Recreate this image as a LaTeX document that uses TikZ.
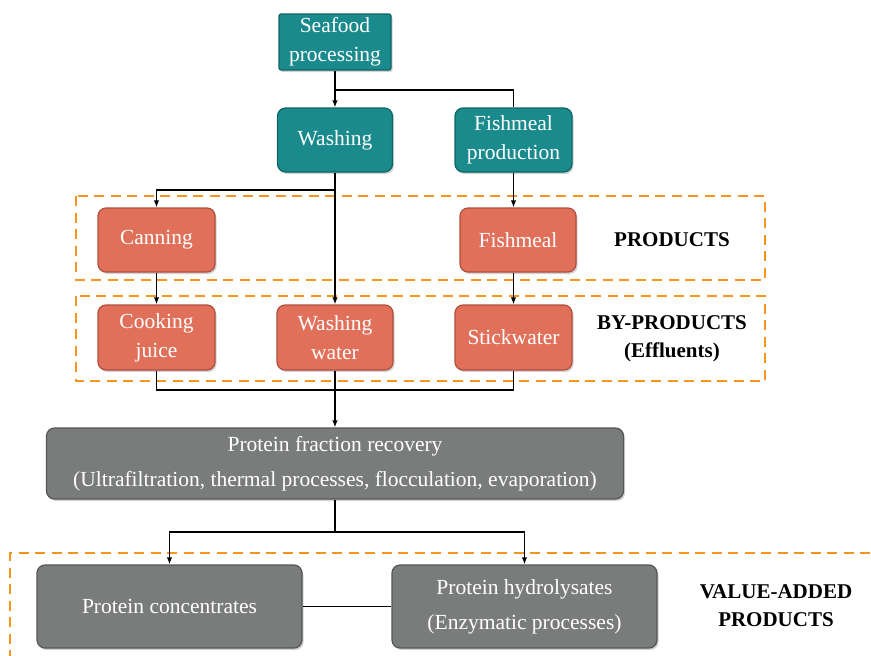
\documentclass[tikz,border=0pt]{standalone}
\usepackage{fontspec}
\setmainfont{Liberation Serif}
\usetikzlibrary{arrows.meta,shadows,calc}
\definecolor{tealbox}{HTML}{1A8A8C}
\definecolor{tealedge}{HTML}{0F6466}
\definecolor{salmon}{HTML}{E0705A}
\definecolor{salmonedge}{HTML}{B04E3C}
\definecolor{graybox}{HTML}{7A7C7C}
\definecolor{grayedge}{HTML}{555757}
\definecolor{dashorange}{HTML}{F7941D}
\tikzset{
  basebox/.style={align=center, text=white, font=\fontsize{21.5}{29}\selectfont,
    line width=1.2pt, inner sep=2pt,
    drop shadow={shadow xshift=1.5pt, shadow yshift=-2pt, opacity=0.35}},
  tealnode/.style={basebox, fill=tealbox, draw=tealedge},
  salnode/.style={basebox, fill=salmon, draw=salmonedge, rounded corners=8pt},
  graynode/.style={basebox, fill=graybox, draw=grayedge, rounded corners=8pt},
  conn/.style={line width=1.4pt, black},
  arr/.style={conn, -{Latex[length=7pt,width=5.5pt]}},
  groupbox/.style={draw=dashorange, line width=2.8pt, dash pattern=on 10pt off 6.5pt},
  grouplabel/.style={align=center, font=\fontsize{21}{28}\selectfont\bfseries}
}
\begin{document}
\begin{tikzpicture}[x=1pt,y=-1pt]
\useasboundingbox (0,0) rectangle (871,656);
% dashed groups
\draw[groupbox] (76,196) rectangle (765,280);
\draw[groupbox] (76,296) rectangle (765,381);
\draw[groupbox] (10,660) -- (10,553) -- (875,553);
% nodes
\node[tealnode, rounded corners=2pt, minimum width=112pt, minimum height=56pt] (sea) at (335,42) {Seafood\\processing};
\node[tealnode, rounded corners=8pt, minimum width=115pt, minimum height=64pt] (wash) at (335,140) {Washing};
\node[tealnode, rounded corners=8pt, minimum width=117pt, minimum height=64pt] (fmp) at (513.5,140) {Fishmeal\\production};
\node[salnode, minimum width=117pt, minimum height=64pt] (can) at (156.5,240) {Canning};
\node[salnode, minimum width=116pt, minimum height=64pt] (fm) at (518,240) {Fishmeal};
\node[salnode, minimum width=117pt, minimum height=65pt] (cj) at (156.5,337.5) {Cooking\\juice};
\node[salnode, minimum width=116pt, minimum height=65pt] (ww) at (335,337.5) {Washing\\water};
\node[salnode, minimum width=117pt, minimum height=65pt] (sw) at (513.5,337.5) {Stickwater};
\node[graynode, minimum width=577pt, minimum height=71pt] (pfr) at (335,463.5) {\raisebox{-4pt}{Protein fraction recovery}\\[6pt]\raisebox{-4pt}{(Ultrafiltration, thermal processes, flocculation, evaporation)}};
\node[graynode, minimum width=265pt, minimum height=83pt] (pc) at (169.5,606.5) {Protein concentrates};
\node[graynode, minimum width=265pt, minimum height=83pt] (ph) at (524.5,606.5) {\raisebox{-4pt}{Protein hydrolysates}\\[6pt]\raisebox{-4pt}{(Enzymatic processes)}};
% labels
\node[grouplabel] (lp) at (672,240) {PRODUCTS};
\node[grouplabel] (lbp) at (672,339) {BY-PRODUCTS\\(Effluents)};
\node[grouplabel] (lva) at (776,606) {VALUE-ADDED\\PRODUCTS};
% junctions
\coordinate (j1) at (335,90);
\coordinate (j2) at (335,190);
\coordinate (j3) at (156.5,390);
\coordinate (j4) at (335,532);
% connectors
\draw[arr] (sea.south) -- (wash.north);
\draw[conn] (j1) -| (fmp.north);
\draw[arr] (wash.south) -- (ww.north);
\draw[arr] (j2) -| (can.north);
\draw[arr] (fmp.south) -- (fmp.south |- fm.north);
\draw[arr] (can.south) -- (cj.north);
\draw[arr] (fmp.south |- fm.south) -- (fmp.south |- sw.north);
\draw[conn] (cj.south) -- (j3) -| (sw.south);
\draw[arr] (ww.south) -- (pfr.north);
\draw[conn] (pfr.south) -- (j4);
\draw[arr] (j4) -| (pc.north);
\draw[arr] (j4) -| (ph.north);
\draw[conn] (pc.east) -- (ph.west);
\end{tikzpicture}
\end{document}
